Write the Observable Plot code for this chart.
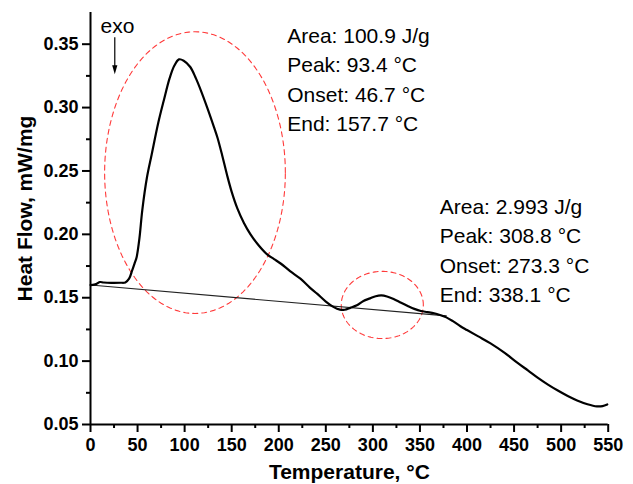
<!DOCTYPE html>
<html>
<head>
<meta charset="utf-8">
<script src="https://cdn.jsdelivr.net/npm/d3@7"></script>
<script src="https://cdn.jsdelivr.net/npm/@observablehq/plot@0.6"></script>
<style>
  html, body { margin: 0; padding: 0; background: #fff; }
  #chart { width: 633px; height: 484px; }
</style>
</head>
<body>
<div id="chart"></div>
<script>
// ---- data ----
const temperature = [0,4,7,10,14,22,32,37,41,44,47,49,52,55,60,65,72,78,84,89,94,99,106,112,117,124,131,135,140,145,150,156,163,170,179,188,195,202,212,223,233,241,250,258,265,270,276,283,290,297,303,309,315,322,330,337,344,351,358,365,372,378,385,393,400,412,425,440,453,465,475,486,496,507,517,528,538,544,549];
const heatFlow = [0.1600,0.1603,0.1612,0.1624,0.1620,0.1617,0.1618,0.1621,0.1650,0.1710,0.1775,0.1820,0.1970,0.2190,0.2450,0.2630,0.2880,0.3060,0.3230,0.3330,0.3380,0.3370,0.3320,0.3230,0.3140,0.3000,0.2850,0.2760,0.2620,0.2470,0.2335,0.2205,0.2090,0.2000,0.1910,0.1840,0.1805,0.1770,0.1710,0.1650,0.1580,0.1530,0.1470,0.1428,0.1406,0.1405,0.1420,0.1440,0.1475,0.1495,0.1512,0.1518,0.1510,0.1490,0.1460,0.1435,0.1412,0.1395,0.1387,0.1378,0.1362,0.1345,0.1315,0.1275,0.1245,0.1195,0.1140,0.1065,0.0990,0.0925,0.0870,0.0815,0.0770,0.0725,0.0690,0.0660,0.0643,0.0645,0.0658];

// integration baseline (start / end)
const baselineT = [0, 378];
const baselineY = [0.1600, 0.1357];

// tick values
const xTicks = [0,50,100,150,200,250,300,350,400,450,500,550];
const xMinorTicks = [25,75,125,175,225,275,325,375,425,475,525];
const yTicks = [0.05,0.10,0.15,0.20,0.25,0.30,0.35];
const yMinorTicks = [0.075,0.125,0.175,0.225,0.275,0.325];

// annotation texts
const peak1Text = ["Area: 100.9 J/g", "Peak: 93.4 \u00B0C", "Onset: 46.7 \u00B0C", "End: 157.7 \u00B0C"];
const peak2Text = ["Area: 2.993 J/g", "Peak: 308.8 \u00B0C", "Onset: 273.3 \u00B0C", "End: 338.1 \u00B0C"];
const exoLabel = ["exo"];
const xLabel = ["Temperature, \u00B0C"];
const yLabel = ["Heat Flow, mW/mg"];

// ---- build tables ----
const curve = temperature.map((t, i) => ({t, v: heatFlow[i]}));
const baseline = baselineT.map((t, i) => ({t, v: baselineY[i]}));

// highlighted regions (ellipses around each peak), in data units
const regions = [
  {id: "p1", cx: 111, cy: 0.2487, rx: 96, ry: 0.1111},
  {id: "p2", cx: 310, cy: 0.1443, rx: 43.6, ry: 0.0265}
];
const ellipsePts = regions.flatMap(r =>
  d3.range(0, 361, 2).map(a => ({
    id: r.id,
    t: r.cx + r.rx * Math.cos(a * Math.PI / 180),
    v: r.cy + r.ry * Math.sin(a * Math.PI / 180)
  }))
);

const font = "'Liberation Sans', Arial, Helvetica, sans-serif";

const downTriangle = {
  draw(ctx) {
    ctx.moveTo(0, 4.5);
    ctx.lineTo(-2.6, -4.5);
    ctx.lineTo(2.6, -4.5);
    ctx.closePath();
  }
};

const chart = Plot.plot({
  width: 633,
  height: 484,
  marginLeft: 90,
  marginRight: 25.3,
  marginTop: 12,
  marginBottom: 60,
  x: {domain: [0, 550]},
  y: {domain: [0.05, 0.375]},
  style: {fontFamily: font, background: "#fff", overflow: "visible"},
  marks: [
    // ellipses
    Plot.line(ellipsePts, {x: "t", y: "v", z: "id", stroke: "#ff3a3a", strokeWidth: 1.1, strokeDasharray: "5,4", curve: "linear"}),
    // baseline
    Plot.line(baseline, {x: "t", y: "v", stroke: "#222", strokeWidth: 1.1}),
    // DSC curve
    Plot.line(curve, {x: "t", y: "v", stroke: "#000", strokeWidth: 2.2, curve: "catmull-rom"}),

    // axes
    Plot.axisX(xTicks, {tickSize: 8, tickPadding: 6, strokeWidth: 2, fontSize: 18, fontWeight: "bold", letterSpacing: "0.3px", label: null, tickFormat: d => String(d)}),
    Plot.axisX(xMinorTicks, {tickSize: 4, strokeWidth: 2, label: null, tickFormat: () => ""}),
    Plot.axisY(yTicks, {tickSize: 8, tickPadding: 4, strokeWidth: 2, fontSize: 18, fontWeight: "bold", letterSpacing: "0.3px", label: null, tickFormat: d3.format(".2f")}),
    Plot.axisY(yMinorTicks, {tickSize: 4, strokeWidth: 2, label: null, tickFormat: () => ""}),
    Plot.ruleY([0.05], {x1: 0, x2: 550, stroke: "#000", strokeWidth: 2}),
    Plot.ruleX([0], {y1: 0.05, y2: 0.375, stroke: "#000", strokeWidth: 2}),

    // axis titles
    Plot.text(xLabel, {text: d => d, frameAnchor: "bottom", dy: 54, lineAnchor: "bottom", fontSize: 21, fontWeight: "bold", fill: "#000"}),
    Plot.text(yLabel, {text: d => d, frameAnchor: "left", dx: -65, dy: -10, rotate: -90, textAnchor: "middle", lineAnchor: "middle", fontSize: 21, fontWeight: "bold", fill: "#000"}),

    // exo marker
    Plot.text(exoLabel, {text: d => d, x: 10.6, y: 0.3586, textAnchor: "start", lineAnchor: "bottom", fontSize: 21, fill: "#000"}),
    Plot.ruleX([25.8], {y1: 0.355, y2: 0.331, stroke: "#000", strokeWidth: 1.2}),
    Plot.dot([25.8], {x: d => d, y: 0.3298, symbol: downTriangle, fill: "#000", stroke: null}),

    // peak annotations
    Plot.text([peak1Text.join("\n")], {text: d => d, x: 209, y: 0.3675, textAnchor: "start", lineAnchor: "top", lineHeight: 1.4, fontSize: 21, fill: "#000"}),
    Plot.text([peak2Text.join("\n")], {text: d => d, x: 371, y: 0.2327, textAnchor: "start", lineAnchor: "top", lineHeight: 1.4, fontSize: 21, fill: "#000"})
  ]
});

document.getElementById("chart").appendChild(chart);
</script>
</body>
</html>
